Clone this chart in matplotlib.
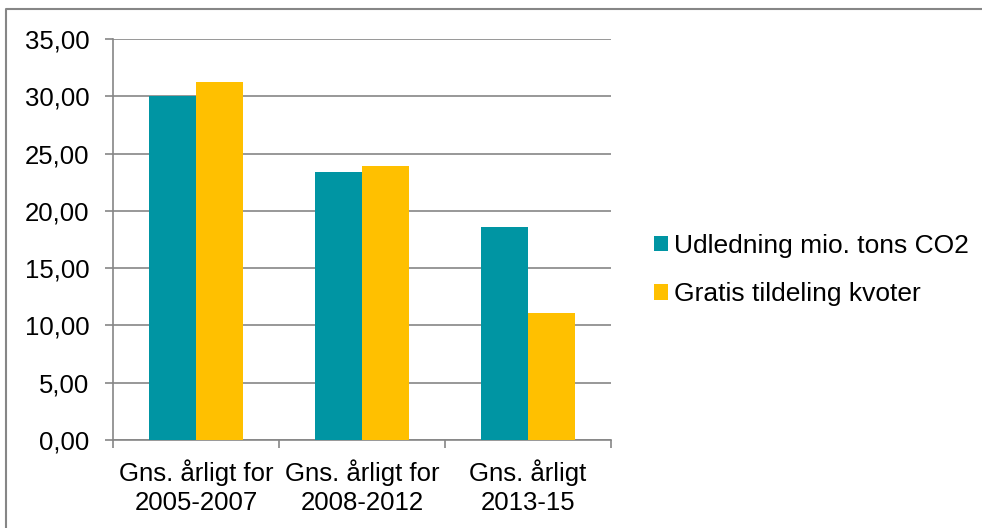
import numpy as np
from matplotlib import pyplot as plt
from matplotlib.lines import Line2D

kategorier = ["Gns. årligt for\n2005-2007", "Gns. årligt for\n2008-2012", "Gns. årligt\n2013-15"]
udledning = [30.05, 23.38, 18.56]
gratis = [31.28, 23.92, 11.05]
serie_navne = ["Udledning mio. tons CO2", "Gratis tildeling kvoter"]
y_ticks = [0, 5, 10, 15, 20, 25, 30, 35]

teal = "#0095A3"
gul = "#FFC000"
graa = "#868686"

plt.rcParams['font.family'] = ['Liberation Sans', 'DejaVu Sans']

fig = plt.figure(figsize=(9.82, 5.28), dpi=100)
ax = fig.add_axes([113/982, 88/528, 498/982, 401/528])

x = np.arange(len(kategorier))
b = 0.283
ax.bar(x - b/2, udledning, width=b, color=teal, label=serie_navne[0], zorder=3)
ax.bar(x + b/2, gratis, width=b, color=gul, label=serie_navne[1], zorder=3)

ax.set_xlim(-0.5, len(kategorier) - 0.5)
ax.set_ylim(0, 35)
ax.set_yticks(y_ticks)
ax.set_yticklabels([("%.2f" % v).replace(".", ",") for v in y_ticks], fontsize=18.5)
ax.yaxis.grid(True, color=graa, linewidth=1.2, zorder=0)

ax.set_xticks(np.arange(-0.5, len(kategorier)), labels=[])
ax.set_xticks(x, labels=kategorier, minor=True, fontsize=18.5)
ax.tick_params(axis='x', which='minor', length=0, pad=14)
ax.tick_params(axis='x', which='major', length=6, color=graa, width=1.2)
ax.tick_params(axis='y', length=6, color=graa, width=1.2, pad=11)
for t in ax.get_xticklabels(minor=True):
    t.set_linespacing(1.25)

for s in ['top', 'right']:
    ax.spines[s].set_visible(False)
for s in ['left', 'bottom']:
    ax.spines[s].set_color(graa)
    ax.spines[s].set_linewidth(1.2)

ax.legend(loc='center left', bbox_to_anchor=(630/982, 1 - 270/528), bbox_transform=fig.transFigure,
          frameon=False, fontsize=19, handlelength=0.55, handleheight=0.55,
          handletextpad=0.2, labelspacing=0.92)

# ramme: kun venstre og top kant er synlige
fig.lines.append(Line2D([6/982, 6/982, 1], [0, 1 - 9/528, 1 - 9/528], transform=fig.transFigure,
                        color=graa, linewidth=1.5))

fig.savefig("out.png", dpi=100)
